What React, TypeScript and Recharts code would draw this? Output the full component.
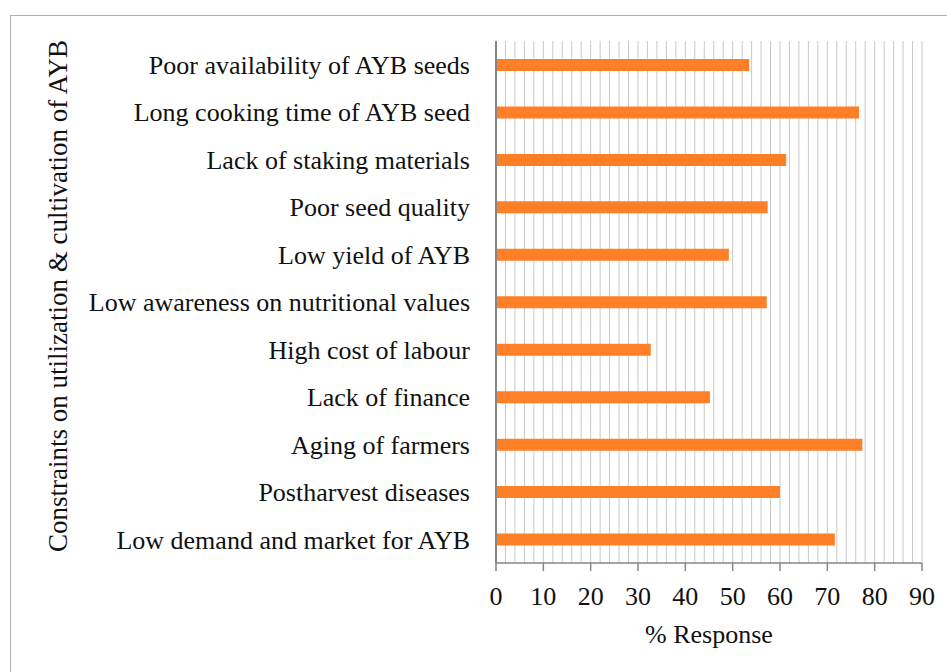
import { BarChart, Bar, XAxis, YAxis, CartesianGrid } from "recharts";

// constraints, top to bottom as in the figure
const constraints = [
  "Poor availability of AYB seeds",
  "Long cooking time of AYB seed",
  "Lack of staking materials",
  "Poor seed quality",
  "Low yield of AYB",
  "Low awareness on nutritional values",
  "High cost of labour",
  "Lack of finance",
  "Aging of farmers",
  "Postharvest diseases",
  "Low demand and market for AYB",
];

const responses = [53.5, 76.7, 61.3, 57.4, 49.2, 57.2, 32.7, 45.2, 77.4, 60.0, 71.6];

const xDomain = [0, 90];
const xTicks = [0, 10, 20, 30, 40, 50, 60, 70, 80, 90];
const gridTicks = [
  2, 4, 6, 8, 10, 12, 14, 16, 18, 20, 22, 24, 26, 28, 30, 32, 34, 36, 38, 40, 42, 44,
  46, 48, 50, 52, 54, 56, 58, 60, 62, 64, 66, 68, 70, 72, 74, 76, 78, 80, 82, 84, 86,
  88, 90,
];

const data = constraints.map((name, i) => ({ name, value: responses[i] }));

const FONT = "'Liberation Serif', 'DejaVu Serif', serif";

// grid lines every 2 units; use the axis scale when it is handed over, else the plot offset
const gridX = ({ xAxis, offset }: any) => {
  const s = xAxis && xAxis.scale;
  if (typeof s === "function") return gridTicks.map((t) => s(t));
  if (s && typeof s.map === "function") return gridTicks.map((t) => s.map(t));
  return gridTicks.map(
    (t) => offset.left + ((t - xDomain[0]) / (xDomain[1] - xDomain[0])) * offset.width
  );
};

export default function App() {
  return (
    <div style={{ position: "relative", width: 947, height: 672, background: "#fff" }}>
      <style>{`body{margin:0}`}</style>
      {/* frame of the original figure */}
      <div
        style={{
          position: "absolute",
          left: 10,
          top: 15,
          width: 960,
          height: 700,
          borderLeft: "1.5px solid #b0b0b0",
          borderTop: "1.5px solid #b0b0b0",
        }}
      />
      <BarChart
        width={947}
        height={672}
        data={data}
        layout="vertical"
        margin={{ top: 41, right: 25, left: 0, bottom: 0 }}
        barCategoryGap={0}
        style={{ position: "absolute", left: 0, top: 0, fontFamily: FONT }}
      >
        <CartesianGrid
          horizontal={false}
          stroke="#c8c8c8"
          strokeWidth={1}
          verticalCoordinatesGenerator={gridX}
        />
        <XAxis
          type="number"
          domain={xDomain}
          ticks={xTicks}
          height={109}
          axisLine={{ stroke: "#868686", strokeWidth: 1.5 }}
          tickLine={{ stroke: "#868686", strokeWidth: 1.5 }}
          tickSize={8}
          tickMargin={16}
          tick={{ fill: "#111", fontSize: 26, fontFamily: FONT }}
          label={{
            value: "% Response",
            position: "insideBottom",
            offset: 29,
            fill: "#111",
            fontSize: 26,
            fontFamily: FONT,
          }}
        />
        <YAxis
          type="category"
          dataKey="name"
          width={496}
          axisLine={{ stroke: "#868686", strokeWidth: 2 }}
          tickLine={false}
          tickSize={0}
          tickMargin={26}
          interval={0}
          tick={{ fill: "#111", fontSize: 26, fontFamily: FONT }}
          label={{
            content: (props: any) => {
              const vb = props.viewBox;
              const cy = vb.y + vb.height / 2 - 6;
              return (
                <text
                  x={58}
                  y={cy}
                  transform={`rotate(-90, 58, ${cy})`}
                  textAnchor="middle"
                  dominantBaseline="central"
                  fill="#111"
                  fontSize={27}
                  fontFamily={FONT}
                >
                  Constraints on utilization &amp; cultivation of AYB
                </text>
              );
            },
          }}
        />
        <Bar dataKey="value" fill="#FF7F27" barSize={12} isAnimationActive={false} />
      </BarChart>
    </div>
  );
}
